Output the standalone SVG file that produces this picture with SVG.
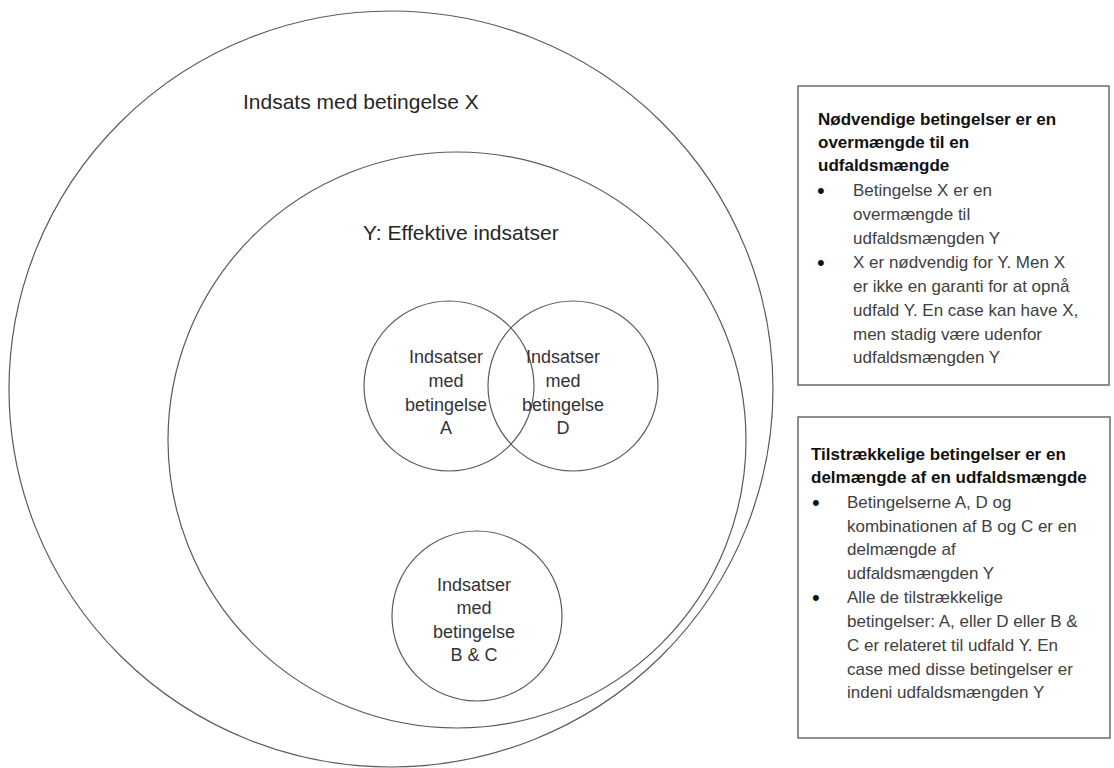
<svg xmlns="http://www.w3.org/2000/svg" width="1114" height="768" viewBox="0 0 1114 768">
<style>
.ring{fill:none;stroke:#5a5a5a;stroke-width:1.2}
.big{font-family:"Liberation Sans",Arial,sans-serif;font-size:21px;fill:#262626}
.lbl{font-family:"Liberation Sans",Arial,sans-serif;font-size:18px;fill:#333;text-anchor:middle}
.box{fill:#fff;stroke:#6b6b6b;stroke-width:1.5}
.ttl{font-family:"Liberation Sans",Arial,sans-serif;font-size:17px;font-weight:bold;fill:#111}
.txt{font-family:"Liberation Sans",Arial,sans-serif;font-size:17px;fill:#404040}
.bul{font-family:"Liberation Sans",Arial,sans-serif;font-size:22px;fill:#111}
</style>
<rect width="1114" height="768" fill="#fff"/>
<g id="setX">
<ellipse class="ring" cx="391" cy="389" rx="382" ry="378"/>
<text class="big" x="243" y="109">Indsats med betingelse X</text>
</g>
<g id="setY">
<ellipse class="ring" cx="457" cy="440" rx="289" ry="288"/>
<text class="big" x="363" y="240">Y: Effektive indsatser</text>
</g>
<g id="setA">
<ellipse class="ring" cx="449" cy="386" rx="85" ry="85"/>
<text class="lbl" x="446"><tspan x="446" y="363">Indsatser</tspan><tspan x="446" y="387">med</tspan><tspan x="446" y="411">betingelse</tspan><tspan x="446" y="434">A</tspan></text>
</g>
<g id="setD">
<ellipse class="ring" cx="573" cy="386" rx="85" ry="85"/>
<text class="lbl" x="563"><tspan x="563" y="363">Indsatser</tspan><tspan x="563" y="387">med</tspan><tspan x="563" y="411">betingelse</tspan><tspan x="563" y="434">D</tspan></text>
</g>
<g id="setBC">
<ellipse class="ring" cx="477" cy="616" rx="85" ry="85"/>
<text class="lbl" x="474"><tspan x="474" y="591">Indsatser</tspan><tspan x="474" y="614">med</tspan><tspan x="474" y="638">betingelse</tspan><tspan x="474" y="661">B &amp; C</tspan></text>
</g>
<g id="connectors"></g>
<g id="box1">
<rect class="box" x="798" y="86" width="311" height="299"/>
<text class="ttl"><tspan x="818" y="125">Nødvendige betingelser er en</tspan><tspan x="818" y="148">overmængde til en</tspan><tspan x="818" y="171">udfaldsmængde</tspan></text>
<text class="bul"><tspan x="817" y="198">•</tspan><tspan x="817" y="270">•</tspan></text>
<text class="txt"><tspan x="853" y="196">Betingelse X er en</tspan><tspan x="853" y="220">overmængde til</tspan><tspan x="853" y="244">udfaldsmængden Y</tspan><tspan x="853" y="268">X er nødvendig for Y. Men X</tspan><tspan x="853" y="292">er ikke en garanti for at opnå</tspan><tspan x="853" y="316">udfald Y. En case kan have X,</tspan><tspan x="853" y="340">men stadig være udenfor</tspan><tspan x="853" y="363">udfaldsmængden Y</tspan></text>
</g>
<g id="box2">
<rect class="box" x="798" y="417" width="312" height="321"/>
<text class="ttl"><tspan x="811" y="460">Tilstrækkelige betingelser er en</tspan><tspan x="811" y="483">delmængde af en udfaldsmængde</tspan></text>
<text class="bul"><tspan x="812" y="510">•</tspan><tspan x="812" y="605">•</tspan></text>
<text class="txt"><tspan x="847" y="508">Betingelserne A, D og</tspan><tspan x="847" y="532">kombinationen af B og C er en</tspan><tspan x="847" y="555">delmængde af</tspan><tspan x="847" y="579">udfaldsmængden Y</tspan><tspan x="847" y="603">Alle de tilstrækkelige</tspan><tspan x="847" y="627">betingelser: A, eller D eller B &amp;</tspan><tspan x="847" y="651">C er relateret til udfald Y. En</tspan><tspan x="847" y="675">case med disse betingelser er</tspan><tspan x="847" y="698">indeni udfaldsmængden Y</tspan></text>
</g>
</svg>
